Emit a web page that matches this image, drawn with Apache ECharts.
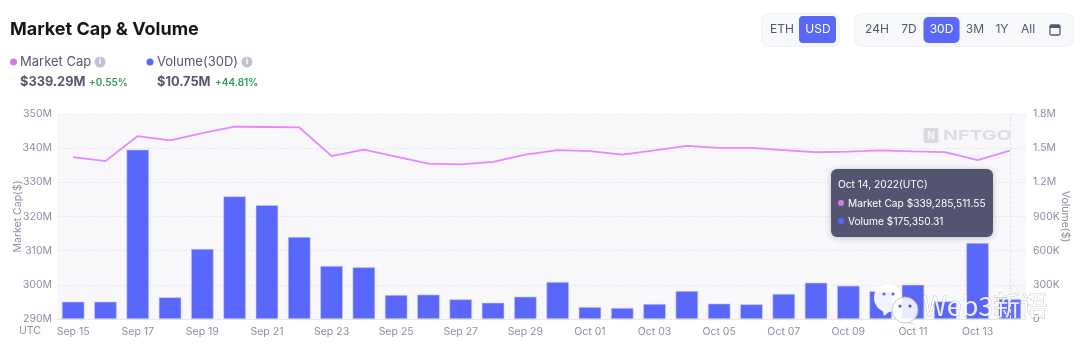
<!DOCTYPE html>
<html>
<head>
<meta charset="utf-8">
<script src="https://cdn.jsdelivr.net/npm/echarts@6/dist/echarts.min.js"></script>
<style>
  html, body { margin: 0; padding: 0; background: #fff; }
  #chart { width: 1080px; height: 354px; }
</style>
</head>
<body>
<div id="chart"></div>
<script>
const days = ['Sep 15', 'Sep 16', 'Sep 17', 'Sep 18', 'Sep 19', 'Sep 20', 'Sep 21', 'Sep 22', 'Sep 23', 'Sep 24',
  'Sep 25', 'Sep 26', 'Sep 27', 'Sep 28', 'Sep 29', 'Sep 30', 'Oct 01', 'Oct 02', 'Oct 03', 'Oct 04',
  'Oct 05', 'Oct 06', 'Oct 07', 'Oct 08', 'Oct 09', 'Oct 10', 'Oct 11', 'Oct 12', 'Oct 13', 'Oct 14']
// millions of USD
const marketCap = [337.4, 336.2, 343.55, 342.3, 344.4, 346.3, 346.2, 346.1, 337.7, 339.55,
  337.5, 335.5, 335.25, 336, 338.1, 339.45, 339.15, 338.1, 339.35, 340.7,
  340.1, 340.1, 339.45, 338.8, 339, 339.35, 339.05, 338.85, 336.5, 339.29]
const volume = [152000, 152000, 1487000, 190000, 615000, 1077000, 1000000, 720000, 465000, 454000,
  211000, 214000, 173000, 143000, 196000, 325000, 105000, 97000, 132000, 246000,
  135000, 129000, 220000, 319000, 292000, 243000, 301000, 155000, 667000, 175350]

const FONT = 'Inter, "Noto Sans", sans-serif'
const LABEL = '#8c8fa6'
const INK = '#55566f'
const PURPLE = '#d07cea'
const BLUE = '#5a67fb'

function txt (x, y, text, size, color, weight, align) {
  return { type: 'text', x: x, y: y, z: 20, style: { text: text, fontSize: size, fill: color, fontWeight: weight || 400, fontFamily: FONT, align: align || 'left', verticalAlign: 'middle' } }
}
function dot (x, y, r, color, z) {
  return { type: 'circle', z: z || 20, shape: { cx: x, cy: y, r: r }, style: { fill: color } }
}
function box (x, y, w, h, r, fill, stroke) {
  return { type: 'rect', z: 15, shape: { x: x, y: y, width: w, height: h, r: r }, style: { fill: fill, stroke: stroke || null } }
}
function tail (points, fill) {
  return { type: 'polygon', z: 31, shape: { points: points }, style: { fill: fill } }
}

const decorations = [
  txt(10, 30, 'Market Cap & Volume', 18, '#15161c', 700),
  dot(13.5, 62, 3.5, PURPLE), txt(20, 62, 'Market Cap', 13, INK),
  dot(100, 62, 5.5, '#bfc2d2'), txt(100, 62, 'i', 8, '#fff', 700, 'center'),
  dot(150, 62, 3.5, BLUE), txt(157, 62, 'Volume(30D)', 13, INK),
  dot(247, 62, 5.5, '#bfc2d2'), txt(247, 62, 'i', 8, '#fff', 700, 'center'),
  txt(20, 82, '$339.29M', 12.8, INK, 700), txt(89, 83, '+0.55%', 10, '#27a04f', 600),
  txt(157, 82, '$10.75M', 12.8, INK, 700), txt(215, 83, '+44.81%', 10, '#27a04f', 600),
  // currency and range switches
  box(761.5, 13.5, 78, 33, 7, '#f7f8f9', '#eff0f3'),
  box(799, 16, 37, 27, 4, BLUE),
  txt(782, 29.5, 'ETH', 12, INK, 400, 'center'), txt(818, 29.5, 'USD', 12, '#fff', 400, 'center'),
  box(854.5, 13.5, 219, 33, 7, '#f7f8f9', '#eff0f3'),
  box(923.5, 17, 36, 26, 5, BLUE),
  txt(877, 29.5, '24H', 12, INK, 400, 'center'), txt(909, 29.5, '7D', 12, INK, 400, 'center'),
  txt(941.5, 29.5, '30D', 12, '#fff', 400, 'center'), txt(975, 29.5, '3M', 12, INK, 400, 'center'),
  txt(1002, 29.5, '1Y', 12, INK, 400, 'center'), txt(1028, 29.5, 'All', 12, INK, 400, 'center'),
  { type: 'rect', z: 20, shape: { x: 1050, y: 25, width: 10, height: 10, r: 1.5 }, style: { fill: 'none', stroke: INK, lineWidth: 1.3 } },
  { type: 'rect', z: 20, shape: { x: 1050, y: 25, width: 10, height: 3 }, style: { fill: INK } },
  txt(30, 331, 'UTC', 10.5, LABEL, 400, 'center'),
  // NFTGO mark
  box(923.5, 128, 15, 15, 2, '#d9dae0'),
  txt(931, 135.5, 'N', 10, '#f8f8fb', 700, 'center'),
  { type: 'text', x: 943, y: 135.5, z: 15, scaleX: 1.45, style: { text: 'NFTGO', fontSize: 13.5, fontWeight: 700, fill: '#dcdde3', fontFamily: FONT, verticalAlign: 'middle' } },
  // WeChat watermark
  dot(888, 298, 14, 'rgba(255,255,255,0.92)', 30),
  tail([[882, 308], [889, 312], [884, 316]], 'rgba(255,255,255,0.92)'),
  dot(884, 294, 1.6, '#5a67fb', 31), dot(893, 294, 1.6, '#5a67fb', 31),
  { type: 'circle', z: 32, shape: { cx: 905, cy: 310, r: 13 }, style: { fill: 'rgba(255,255,255,0.87)', stroke: '#b9b9c0', lineWidth: 0.8 } },
  tail([[908, 320], [915, 325], [906, 323]], '#e5e6f0'),
  dot(900, 306, 1.6, '#5b5f8c', 33), dot(910, 306, 1.6, '#5b5f8c', 33),
  { type: 'text', x: 923, y: 306, z: 34, style: { text: 'Web3新语', fontSize: 27, fill: 'rgba(255,255,255,0.88)', stroke: 'rgba(90,90,105,0.55)', lineWidth: 0.5, fontFamily: '"Noto Sans CJK SC", sans-serif', verticalAlign: 'middle' } }
]

const chart = echarts.init(document.getElementById('chart'), null, { renderer: 'canvas' })
chart.setOption({
  animation: false,
  graphic: decorations,
  grid: { left: 57, right: 54, top: 114, bottom: 35, show: true, backgroundColor: '#f8f8fb', borderWidth: 0, outerBoundsMode: 'none' },
  tooltip: {
    trigger: 'axis',
    alwaysShowContent: true,
    position: [831, 169],
    transitionDuration: 0,
    padding: [6, 7],
    backgroundColor: '#53546f',
    borderWidth: 0,
    extraCssText: 'border-radius:6px;box-shadow:0 1px 6px rgba(60,60,90,.3);line-height:18.6px;width:148px;white-space:nowrap;',
    textStyle: { color: '#fff', fontSize: 10.2, fontFamily: FONT },
    axisPointer: { type: 'line', lineStyle: { type: 'dashed', color: '#e2e3ea', width: 1 } },
    formatter: function () {
      const mark = function (c) { return '<span style="display:inline-block;width:6px;height:6px;border-radius:3px;margin-right:4px;vertical-align:1px;background:' + c + '"></span>' }
      return 'Oct 14, 2022(UTC)<br>' + mark(PURPLE) + 'Market Cap $339,285,511.55<br>' + mark(BLUE) + 'Volume $175,350.31'
    }
  },
  xAxis: {
    type: 'category',
    data: days,
    axisLine: { lineStyle: { color: '#e6e7ee' } },
    axisTick: { show: false },
    axisLabel: { interval: 1, color: LABEL, fontSize: 10.5, fontFamily: FONT, margin: 7 }
  },
  yAxis: [
    {
      type: 'value',
      name: 'Market Cap($)',
      nameLocation: 'middle',
      nameGap: 34,
      nameMoveOverlap: false,
      nameTextStyle: { color: LABEL, fontSize: 10.5, fontFamily: FONT },
      min: 290,
      max: 350,
      interval: 10,
      axisLine: { show: false },
      axisTick: { show: false },
      axisLabel: { color: LABEL, fontSize: 10.5, fontFamily: FONT, margin: 5, formatter: '{value}M' },
      splitLine: { lineStyle: { type: 'dashed', color: '#e9eaf0' } }
    },
    {
      type: 'value',
      name: 'Volume($)',
      nameLocation: 'middle',
      nameGap: 34,
      nameMoveOverlap: false,
      nameRotate: -90,
      nameTextStyle: { color: LABEL, fontSize: 10.5, fontFamily: FONT },
      min: 0,
      max: 1800000,
      interval: 300000,
      axisLine: { show: false },
      axisTick: { show: false },
      axisLabel: {
        color: LABEL,
        fontSize: 10.5,
        fontFamily: FONT,
        margin: 7,
        formatter: function (v) {
          if (v === 0) return '0'
          return v >= 1000000 ? (v / 1000000).toFixed(1) + 'M' : (v / 1000) + 'K'
        }
      },
      splitLine: { show: false }
    }
  ],
  series: [
    {
      name: 'Volume',
      type: 'bar',
      yAxisIndex: 1,
      data: volume,
      barWidth: 22.5,
      itemStyle: { color: BLUE, borderColor: '#c9cdfd', borderWidth: 0.6 },
      z: 2
    },
    {
      name: 'Market Cap',
      type: 'line',
      yAxisIndex: 0,
      data: marketCap,
      symbol: 'none',
      lineStyle: { color: PURPLE, width: 1.8 },
      z: 3
    }
  ]
})
chart.dispatchAction({ type: 'showTip', seriesIndex: 0, dataIndex: 29 })
</script>
</body>
</html>
